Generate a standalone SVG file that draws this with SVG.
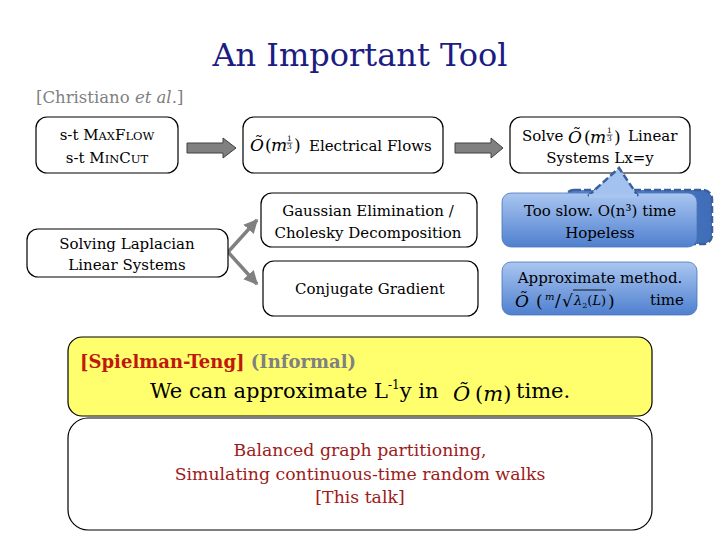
<svg xmlns="http://www.w3.org/2000/svg" width="720" height="540" viewBox="0 0 720 540" font-family="DejaVu Serif, serif">
<defs>
<linearGradient id="blue" x1="0" y1="0" x2="0" y2="1">
<stop offset="0" stop-color="#aac6f1"/>
<stop offset="1" stop-color="#4f80cf"/>
</linearGradient>
<linearGradient id="blueSide" x1="0" y1="0" x2="1" y2="0">
<stop offset="0" stop-color="#5a88d2"/>
<stop offset="1" stop-color="#3f6db8"/>
</linearGradient>
<marker id="ah" viewBox="0 0 10 10" refX="9" refY="5" markerWidth="4" markerHeight="4" orient="auto">
<path d="M0,0 L10,5 L0,10 z" fill="#808080"/>
</marker>
</defs>
<style>
text{font-family:'DejaVu Serif',serif;fill:#000}
.t{font-size:15px}
.m{font-size:17px;font-style:italic}
.mu{font-size:17px}
.fr{font-size:7.5px}
.box{fill:#fff;stroke:#000;stroke-width:1.2}
.block{fill:#808080;stroke:#404040;stroke-width:1}
.conn{stroke:#808080;stroke-width:3.5;fill:none}
.dash{stroke:#3b609c;stroke-width:2.5;stroke-dasharray:7 3}
.red{font-size:17.3px;fill:#9e1a1a}
</style>
<rect width="720" height="540" fill="#fff"/>

<text x="360" y="66" text-anchor="middle" style="font-size:32px;fill:#1c1c82">An Important Tool</text>
<text x="36" y="103" style="font-size:16.5px;fill:#7f7f7f">[Christiano <tspan font-style="italic">et al</tspan>.]</text>

<g id="connectors">
<path class="block" d="M187,143 L223,143 L223,138 L236,148 L223,158 L223,153 L187,153 z"/>
<path class="block" d="M455,143 L491,143 L491,138 L503,148 L491,158 L491,153 L455,153 z"/>
<line class="conn" x1="228" y1="252" x2="257" y2="220" marker-end="url(#ah)"/>
<line class="conn" x1="228" y1="252" x2="257" y2="284" marker-end="url(#ah)"/>
</g>

<g id="maxflow">
<rect class="box" x="36" y="117" width="142" height="56" rx="11"/>
<text x="107" y="140" text-anchor="middle" class="t">s-t M<tspan font-size="11.5">AX</tspan>F<tspan font-size="11.5">LOW</tspan></text>
<text x="107" y="163" text-anchor="middle" class="t">s-t M<tspan font-size="11.5">IN</tspan>C<tspan font-size="11.5">UT</tspan></text>
</g>

<g id="electrical">
<rect class="box" x="243" y="117" width="200" height="56" rx="11"/>
<text x="250" y="151" class="m">Õ</text>
<text x="265" y="151" class="mu">(</text>
<text x="271" y="151" class="m">m</text>
<text x="287" y="141" class="fr">1</text>
<line x1="286.5" y1="143" x2="292.5" y2="143" stroke="#000" stroke-width="0.6"/>
<text x="287" y="149" class="fr">3</text>
<text x="294" y="151" class="mu">)</text>
<text x="309" y="151" class="t">Electrical Flows</text>
</g>

<g id="solve">
<rect class="box" x="510" y="117" width="180" height="56" rx="11"/>
<text x="522" y="141" class="t">Solve</text>
<text x="568" y="143" class="m">Õ</text>
<text x="584" y="143" class="mu">(</text>
<text x="590" y="143" class="m">m</text>
<text x="607" y="133" class="fr">1</text>
<line x1="606.5" y1="135" x2="612.5" y2="135" stroke="#000" stroke-width="0.6"/>
<text x="607" y="141" class="fr">3</text>
<text x="614" y="143" class="mu">)</text>
<text x="628" y="141" class="t">Linear</text>
<text x="600" y="163" text-anchor="middle" class="t">Systems Lx=y</text>
</g>

<g id="tooslow">
<rect x="565" y="190" width="147" height="54" rx="9" fill="url(#blueSide)" class="dash"/>
<rect x="502" y="193" width="195" height="54" rx="9" fill="url(#blue)" stroke="#4a73b5" stroke-width="0.8"/>
<path d="M588,196 L619,168 L638,196" fill="#a4c2f0" class="dash"/>
<path d="M589,196 L637,196" stroke="#a9c5f1" stroke-width="4"/>
<text x="600" y="216" text-anchor="middle" class="t">Too slow. O(n³) time</text>
<text x="600" y="238" text-anchor="middle" class="t">Hopeless</text>
</g>

<g id="approx">
<rect x="502" y="262" width="195" height="53" rx="9" fill="url(#blue)" stroke="#4a73b5" stroke-width="0.8"/>
<text x="600" y="283" text-anchor="middle" class="t">Approximate method.</text>
<text x="515" y="307" class="m">Õ</text>
<text x="536" y="307" class="mu">(</text>
<text x="545" y="300" style="font-size:10px;font-style:italic">m</text>
<text x="555" y="306" class="mu">/</text>
<text x="562" y="307" class="mu">√</text>
<line x1="573" y1="290" x2="606" y2="290" stroke="#000" stroke-width="0.9"/>
<text x="574" y="305" style="font-size:13px;font-style:italic">λ<tspan font-size="8" font-style="normal" dy="3">2</tspan><tspan dy="-3" font-style="normal">(</tspan>L<tspan font-style="normal">)</tspan></text>
<text x="608" y="307" class="mu">)</text>
<text x="650" y="305" class="t">time</text>
</g>

<g id="laplacian">
<rect class="box" x="27" y="229" width="201" height="48" rx="11"/>
<text x="127" y="249" text-anchor="middle" class="t">Solving Laplacian</text>
<text x="127" y="270" text-anchor="middle" class="t">Linear Systems</text>
</g>

<g id="gaussian">
<rect class="box" x="261" y="193" width="216" height="54" rx="11"/>
<text x="368" y="216" text-anchor="middle" class="t">Gaussian Elimination /</text>
<text x="368" y="238" text-anchor="middle" class="t">Cholesky Decomposition</text>
</g>

<g id="conjugate">
<rect class="box" x="263" y="261" width="215" height="55" rx="11"/>
<text x="370" y="294" text-anchor="middle" class="t">Conjugate Gradient</text>
</g>

<g id="spielman">
<rect x="68" y="337" width="584" height="79" rx="14" fill="#ffff6e" stroke="#000" stroke-width="1.2"/>
<text x="80" y="368" style="font-size:18px;font-weight:bold;fill:#c0180c">[Spielman-Teng] <tspan style="fill:#808080">(Informal)</tspan></text>
<text x="150" y="398" style="font-size:21px">We can approximate L<tspan font-size="12" dy="-9">-1</tspan><tspan dy="9">y in</tspan></text>
<text x="453" y="401" style="font-size:21px;font-style:italic">Õ</text>
<text x="475" y="401" style="font-size:21px">(<tspan font-style="italic">m</tspan>)</text>
<text x="516" y="398" style="font-size:21px">time.</text>
</g>

<g id="talk">
<rect class="box" x="68" y="418" width="584" height="112" rx="20"/>
<text x="360" y="456" text-anchor="middle" class="red">Balanced graph partitioning,</text>
<text x="360" y="480" text-anchor="middle" class="red">Simulating continuous-time random walks</text>
<text x="360" y="503" text-anchor="middle" class="red">[This talk]</text>
</g>
</svg>
